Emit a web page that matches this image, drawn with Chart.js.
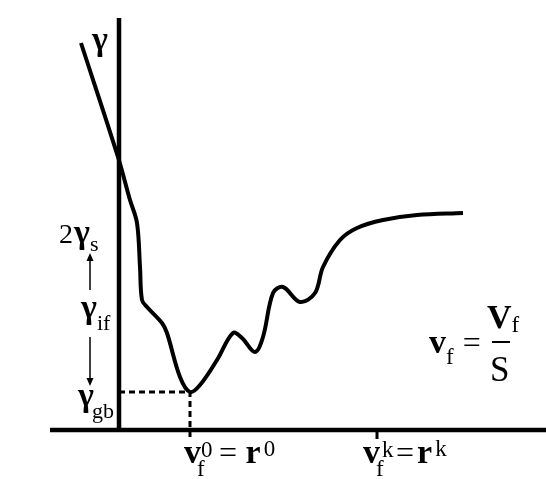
<!DOCTYPE html>
<html>
<head>
<meta charset="utf-8">
<script src="https://cdn.jsdelivr.net/npm/chart.js@4.4.1/dist/chart.umd.min.js"></script>
<style>
  body { margin: 0; background: #ffffff; }
  canvas { display: block; }
</style>
</head>
<body>
<canvas id="chart" width="546" height="479"></canvas>
<script>
// energy curve gamma(v_f), x = volume fraction units, y = energy units
const curveX = [-3.8, -0.1, 1.1, 1.8, 2.1, 2.3, 2.8, 4.3, 4.8, 6.1, 7.1, 8.1, 9.8, 11.4, 12.3, 13.6, 14.4, 15.4, 16.4, 18.1, 19.6, 20.4, 22.1, 23.8, 26.4, 29.8, 34.4];
const curveY = [38.7, 27.3, 23.0, 20.7, 16.3, 13.0, 12.3, 10.7, 9.7, 5.3, 3.8, 4.5, 7.0, 9.7, 9.2, 7.8, 9.3, 13.7, 14.3, 12.8, 13.7, 16.3, 19.0, 20.2, 21.0, 21.5, 21.7];

// marked levels
const gammaGb = 3.8;   // minimum energy
const vf0 = 7.1;       // v_f^0 = r^0
const vfk = 25.8;      // v_f^k = r^k
const yAxisTop = 41.2;
const xAxisRange = [-6.9, 42.7];

const curve = curveX.map((x, i) => ({ x: x, y: curveY[i] }));

// ✅ text labels (math-ish, drawn piece by piece)
const serif = '"Liberation Serif", "DejaVu Serif", serif';
function drawRich(ctx, x, y, parts) {
    let cx = x;
    parts.forEach(p => {
        ctx.font = (p.bold === false ? '' : 'bold ') + p.size + 'px ' + serif;
        ctx.fillText(p.t, cx + (p.dx || 0), y + (p.dy || 0));
        cx += ctx.measureText(p.t).width + (p.dx || 0);
    });
}

function arrow(ctx, x, y1, y2) {
    const dir = y2 > y1 ? 1 : -1;
    ctx.beginPath();
    ctx.moveTo(x, y1);
    ctx.lineTo(x, y2 - dir * 6);
    ctx.stroke();
    ctx.beginPath();
    ctx.moveTo(x - 3.5, y2 - dir * 8);
    ctx.lineTo(x, y2);
    ctx.lineTo(x + 3.5, y2 - dir * 8);
    ctx.closePath();
    ctx.fill();
}

const labelPlugin = {
    id: 'labels',
    afterDraw(chart) {
        const ctx = chart.ctx;
        const xs = chart.scales.x;
        const ys = chart.scales.y;
        ctx.save();
        ctx.fillStyle = '#000';
        ctx.strokeStyle = '#000';
        ctx.lineWidth = 1.5;
        ctx.textBaseline = 'alphabetic';

        // axis label gamma
        drawRich(ctx, 92, 50, [{ t: 'γ', size: 34 }]);

        // 2γs, γif, γgb on the left
        drawRich(ctx, 59, 243, [{ t: '2', size: 28, bold: false }, { t: 'γ', size: 34, dx: 1 }, { t: 's', size: 22, bold: false, dy: 8 }]);
        arrow(ctx, 90, 290, 253);
        drawRich(ctx, 81, 318, [{ t: 'γ', size: 34 }, { t: 'if', size: 22, bold: false, dy: 12 }]);
        arrow(ctx, 90, 337, 386);
        const yGb = ys.getPixelForValue(gammaGb);
        drawRich(ctx, 78, yGb + 14, [{ t: 'γ', size: 34 }, { t: 'gb', size: 22, bold: false, dx: -2, dy: 12 }]);

        // v_f^0 = r^0
        const x0 = xs.getPixelForValue(vf0);
        drawRich(ctx, x0 - 6, 463, [{ t: 'v', size: 34 }]);
        ctx.font = '23px ' + serif;
        ctx.fillText('f', x0 + 7, 476);
        drawRich(ctx, x0 + 11, 457, [{ t: '0', size: 23, bold: false }]);
        drawRich(ctx, x0 + 29, 463, [{ t: '=', size: 32, bold: false }, { t: ' r', size: 34 }, { t: '0', size: 23, bold: false, dx: 3, dy: -7 }]);

        // v_f^k = r^k
        const xk = xs.getPixelForValue(vfk);
        drawRich(ctx, xk - 14, 463, [{ t: 'v', size: 34 }]);
        ctx.font = '23px ' + serif;
        ctx.fillText('f', xk - 1, 476);
        drawRich(ctx, xk + 5, 457, [{ t: 'k', size: 23, bold: false }]);
        drawRich(ctx, xk + 19, 463, [{ t: '=', size: 32, bold: false }, { t: 'r', size: 34, dx: 3 }, { t: 'k', size: 23, bold: false, dx: 3, dy: -7 }]);

        // v_f = V_f / S
        drawRich(ctx, 429, 353, [{ t: 'v', size: 34 }, { t: 'f', size: 23, bold: false, dy: 11 }, { t: ' =', size: 32, bold: false, dx: 1 }]);
        drawRich(ctx, 487, 328, [{ t: 'V', size: 34 }, { t: 'f', size: 23, bold: false, dy: 4 }]);
        ctx.lineWidth = 2;
        ctx.beginPath();
        ctx.moveTo(492, 342);
        ctx.lineTo(510, 342);
        ctx.stroke();
        drawRich(ctx, 490, 381, [{ t: 'S', size: 35, bold: false }]);
        ctx.restore();
    }
};

new Chart(document.getElementById('chart'), {
    type: 'scatter',
    data: {
        datasets: [
            {
                data: curve,
                showLine: true,
                borderColor: '#000',
                borderWidth: 4,
                tension: 0.35,
                pointRadius: 0
            },
            {
                data: [{ x: 0, y: yAxisTop }, { x: 0, y: -0.2 }],
                showLine: true,
                borderColor: '#000',
                borderWidth: 4.5,
                pointRadius: 0
            },
            {
                data: [{ x: xAxisRange[0], y: 0 }, { x: xAxisRange[1], y: 0 }],
                showLine: true,
                borderColor: '#000',
                borderWidth: 4.5,
                pointRadius: 0
            },
            {
                data: [{ x: 0, y: gammaGb }, { x: vf0, y: gammaGb }, { x: vf0, y: -0.7 }],
                showLine: true,
                borderColor: '#000',
                borderWidth: 3,
                borderDash: [6, 4],
                pointRadius: 0
            },
            {
                data: [{ x: vfk, y: 0 }, { x: vfk, y: -0.9 }],
                showLine: true,
                borderColor: '#000',
                borderWidth: 3,
                pointRadius: 0
            }
        ]
    },
    options: {
        responsive: false,
        animation: false,
        layout: { padding: 0 },
        plugins: {
            legend: { display: false },
            tooltip: { enabled: false }
        },
        scales: {
            x: { type: 'linear', display: false, min: -11.9, max: 42.7 },
            y: { type: 'linear', display: false, min: -4.9, max: 43.0 }
        }
    },
    plugins: [labelPlugin]
});
</script>
</body>
</html>
